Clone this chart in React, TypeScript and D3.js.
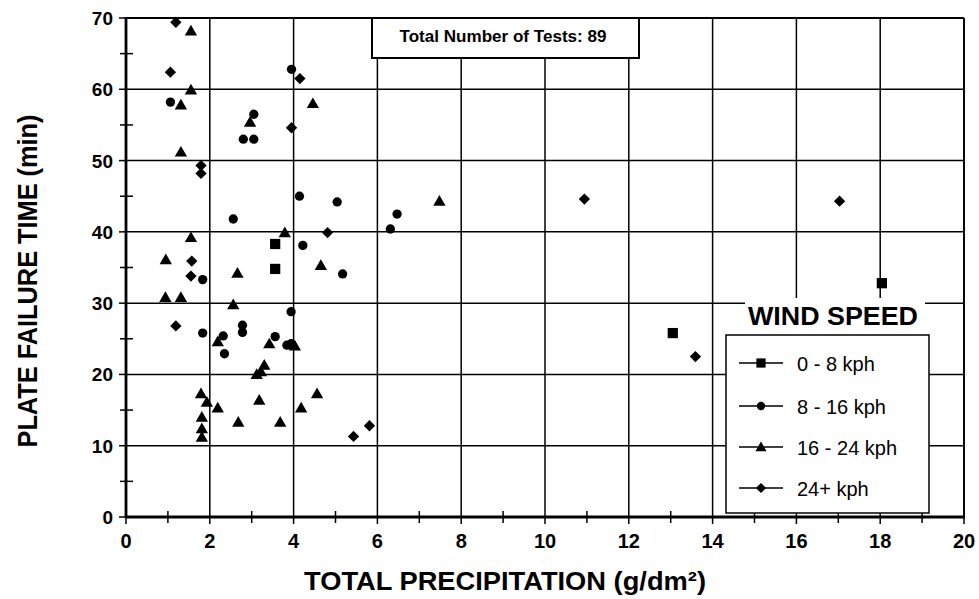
import React from "react";
import * as d3 from "d3";

const xTicks = [0, 2, 4, 6, 8, 10, 12, 14, 16, 18, 20];
const yTicks = [0, 10, 20, 30, 40, 50, 60, 70];

const calm: [number, number][] = [
  [3.56, 38.3], [3.56, 34.8], [13.05, 25.8], [18.04, 32.8],
];
const moderate: [number, number][] = [
  [1.06, 58.2], [3.95, 62.8], [3.05, 56.5], [2.8, 53.0], [3.05, 53.0],
  [4.14, 45.0], [5.04, 44.2], [2.56, 41.8], [4.22, 38.1], [5.17, 34.1],
  [1.83, 33.3], [3.94, 28.8], [1.83, 25.8], [2.78, 26.9], [2.78, 25.9],
  [3.56, 25.3], [2.32, 25.4], [2.35, 22.9], [3.84, 24.1], [3.94, 24.3],
  [6.47, 42.5], [6.31, 40.4],
];
const strong: [number, number][] = [
  [1.55, 68.2], [1.55, 59.9], [1.31, 57.8], [1.31, 51.2], [4.46, 58.0],
  [2.96, 55.4], [1.55, 39.2], [3.79, 39.9], [0.95, 36.1], [4.65, 35.3],
  [2.66, 34.2], [0.94, 30.8], [1.31, 30.8], [2.56, 29.8], [2.19, 24.6],
  [3.42, 24.3], [4.03, 24.0], [3.22, 20.4], [3.3, 21.3], [3.12, 20.0],
  [1.79, 17.3], [1.93, 16.1], [2.19, 15.3], [3.18, 16.4], [4.18, 15.3],
  [4.56, 17.3], [1.81, 14.0], [1.81, 12.4], [1.81, 11.2], [2.68, 13.3],
  [3.68, 13.3], [7.48, 44.3],
];
const gale: [number, number][] = [
  [1.19, 69.4], [1.06, 62.4], [1.79, 49.3], [1.79, 48.2], [4.15, 61.5],
  [3.95, 54.6], [4.81, 39.9], [1.57, 35.9], [1.55, 33.8], [1.19, 26.8],
  [5.43, 11.3], [5.81, 12.8], [10.94, 44.6], [17.03, 44.3], [13.59, 22.5],
];
const legendLabels = ["0 - 8 kph", "8 - 16 kph", "16 - 24 kph", "24+ kph"];

const W = 979;
const H = 599;
const FONT = "'Liberation Sans', Arial, Helvetica, sans-serif";

type Kind = "square" | "circle" | "triangle" | "diamond";

function symbolPath(kind: Kind, scale = 1): string {
  const type =
    kind === "square" ? d3.symbolSquare :
    kind === "circle" ? d3.symbolCircle :
    kind === "triangle" ? d3.symbolTriangle : d3.symbolSquare;
  const size =
    kind === "square" ? 105 :
    kind === "circle" ? 68 :
    kind === "triangle" ? 66 : 64;
  return d3.symbol().type(type).size(size * scale * scale)() as string;
}

function Marker({ kind, x, y, scale = 1 }: { kind: Kind; x: number; y: number; scale?: number }) {
  const rot = kind === "diamond" ? " rotate(45)" : "";
  const dy = kind === "triangle" ? 1 : 0;
  return <path d={symbolPath(kind, scale)} transform={`translate(${x},${y + dy})${rot}`} fill="#000" />;
}

export default function App() {
  const x = d3.scaleLinear().domain([0, 20]).range([126, 964]);
  const y = d3.scaleLinear().domain([0, 70]).range([517, 18]);

  const minorX = d3.range(1, 20, 2);
  const minorY = d3.range(5, 70, 10);

  const series: { kind: Kind; data: [number, number][] }[] = [
    { kind: "square", data: calm },
    { kind: "circle", data: moderate },
    { kind: "triangle", data: strong },
    { kind: "diamond", data: gale },
  ];

  const legendYs = [363, 406, 447, 488];

  return (
    <svg width={W} height={H} style={{ position: "absolute", left: 0, top: 0, background: "#fff" }} fontFamily={FONT}>
      <rect width={W} height={H} fill="#fff" />
      {/* grid */}
      {xTicks.slice(1).map((t) => (
        <line key={"gx" + t} x1={x(t)} x2={x(t)} y1={y(0)} y2={y(70)} stroke="#000" strokeWidth={1.5} />
      ))}
      {yTicks.slice(1).map((t) => (
        <line key={"gy" + t} x1={x(0)} x2={x(20)} y1={y(t)} y2={y(t)} stroke="#000" strokeWidth={1.5} />
      ))}
      {/* axes */}
      <line x1={x(0)} x2={x(0)} y1={y(0) + 1} y2={y(70) - 1} stroke="#000" strokeWidth={2.8} />
      <line x1={x(0) - 1} x2={x(20) + 1} y1={y(0)} y2={y(0)} stroke="#000" strokeWidth={2.8} />
      <line x1={x(0)} x2={x(20)} y1={y(70)} y2={y(70)} stroke="#000" strokeWidth={2.2} />
      <line x1={x(20)} x2={x(20)} y1={y(0)} y2={y(70)} stroke="#000" strokeWidth={1.8} />
      {/* ticks */}
      {yTicks.map((t) => (
        <line key={"ty" + t} x1={x(0) - 7} x2={x(0)} y1={y(t)} y2={y(t)} stroke="#000" strokeWidth={1.5} />
      ))}
      {minorY.map((t) => (
        <line key={"my" + t} x1={x(0) - 6} x2={x(0) + 7} y1={y(t)} y2={y(t)} stroke="#000" strokeWidth={1.5} />
      ))}
      {xTicks.map((t) => (
        <line key={"tx" + t} x1={x(t)} x2={x(t)} y1={y(0)} y2={y(0) + 7} stroke="#000" strokeWidth={1.5} />
      ))}
      {minorX.map((t) => (
        <line key={"mx" + t} x1={x(t)} x2={x(t)} y1={y(0) - 6} y2={y(0) + 6} stroke="#000" strokeWidth={1.5} />
      ))}
      {/* tick labels */}
      {yTicks.map((t) => (
        <text key={"ly" + t} x={113} y={y(t) + 7} textAnchor="end" fontSize={19} fontWeight="bold">{t}</text>
      ))}
      {xTicks.map((t) => (
        <text key={"lx" + t} x={x(t)} y={548} textAnchor="middle" fontSize={20} fontWeight="bold">{t}</text>
      ))}
      {/* axis titles */}
      <text x={505} y={590} textAnchor="middle" fontSize={26} fontWeight="bold" textLength={402} lengthAdjust="spacingAndGlyphs">
        TOTAL PRECIPITATION (g/dm²)
      </text>
      <text transform={`translate(37,281) rotate(-90)`} textAnchor="middle" fontSize={28} fontWeight="bold" textLength={333} lengthAdjust="spacingAndGlyphs">
        PLATE FAILURE TIME (min)
      </text>
      {/* title box */}
      <rect x={372} y={18} width={267} height={40} fill="#fff" stroke="#000" strokeWidth={2} />
      <text x={503} y={42} textAnchor="middle" fontSize={16.5} fontWeight="bold" textLength={207} lengthAdjust="spacingAndGlyphs">Total Number of Tests: 89</text>
      {/* data */}
      {series.map((s) =>
        s.data.map((d, i) => <Marker key={s.kind + i} kind={s.kind} x={x(d[0])} y={y(d[1])} />)
      )}
      {/* legend */}
      <rect x={745} y={298} width={180} height={37} fill="#fff" />
      <text x={833} y={325} textAnchor="middle" fontSize={25} fontWeight="bold" textLength={170} lengthAdjust="spacingAndGlyphs">WIND SPEED</text>
      <rect x={726} y={335} width={203} height={178} fill="#fff" stroke="#000" strokeWidth={1.5} />
      {series.map((s, i) => (
        <g key={"lg" + i}>
          <line x1={739} x2={783} y1={legendYs[i]} y2={legendYs[i]} stroke="#000" strokeWidth={1.5} />
          <Marker kind={s.kind} x={761} y={legendYs[i]} scale={0.9} />
          <text x={797} y={legendYs[i] + 8} fontSize={20}>{legendLabels[i]}</text>
        </g>
      ))}
    </svg>
  );
}
